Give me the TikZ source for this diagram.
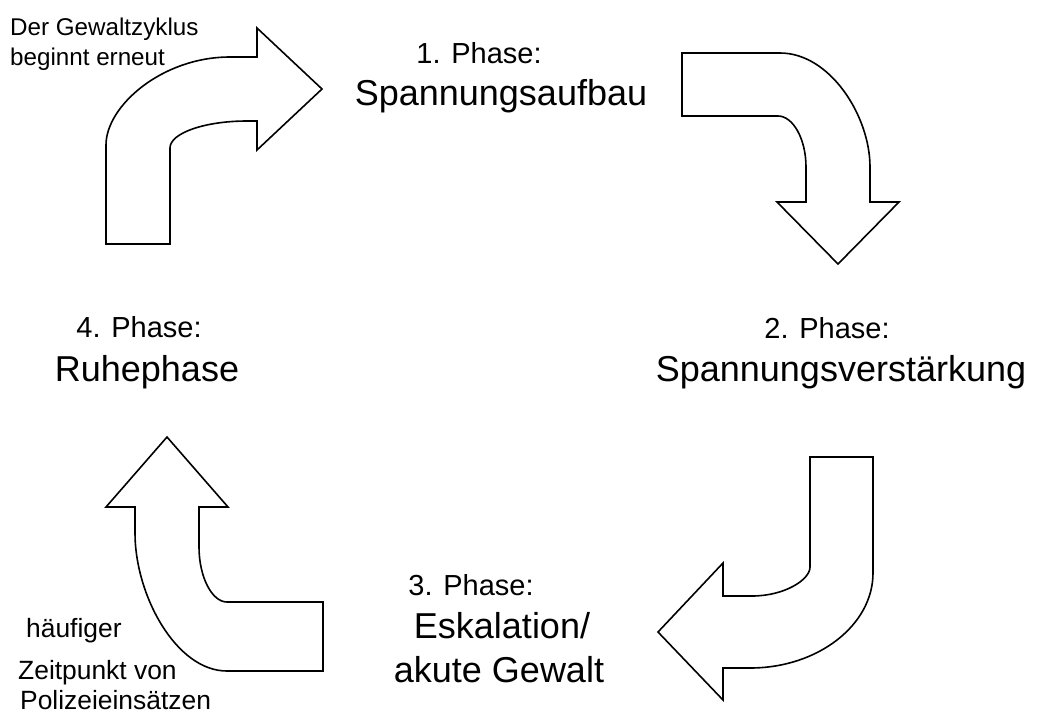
\documentclass[tikz,border=0pt]{standalone}
\usepackage{fontspec}
\setmainfont{Liberation Sans}
\usepackage{tikz}
\usetikzlibrary{positioning}
\tikzset{phase/.style = {inner sep=0pt, anchor=base,
                         font=\fontsize{29}{35}\selectfont},
         stage/.style = {inner sep=0pt, anchor=base,
                         font=\fontsize{36}{43}\selectfont},
         note/.style  = {inner sep=0pt, anchor=base west,
                         font=\fontsize{24.2}{29}\selectfont},
         bigarrow/.style = {draw, line width=1.6pt, line join=miter, fill=white}}

\begin{document}
\begin{tikzpicture}[x=1pt, y=-1pt]
    \useasboundingbox (0, 0) rectangle (1046, 716);
    % arrow into phase 1
    \draw [bigarrow] (106, 244) -- (170, 244) -- (170, 148)
        .. controls (170, 133) and (205, 121) .. (247, 121) -- (257, 121)
        -- (257, 150) -- (322, 89) -- (257, 28) -- (257, 57) -- (230, 57)
        .. controls (162, 57) and (106, 106) .. (106, 145) -- cycle;
    % arrow into phase 2
    \draw [bigarrow] (682, 53) -- (780, 53)
        .. controls (830, 53) and (870, 116) .. (870, 167) -- (870, 202)
        -- (899, 202) -- (838, 264) -- (777, 202) -- (806, 202) -- (806, 167)
        .. controls (806, 139) and (793, 116) .. (778, 116) -- (682, 116) -- cycle;
    % arrow into phase 3
    \draw [bigarrow] (810, 457) -- (873, 457) -- (873, 573)
        .. controls (873, 625) and (818, 668) .. (750, 668) -- (723, 668)
        -- (723, 700) -- (658, 632) -- (723, 563) -- (723, 596) -- (752, 596)
        .. controls (784, 596) and (810, 580) .. (810, 567) -- cycle;
    % arrow into phase 4
    \draw [bigarrow] (167, 437) -- (228, 507) -- (199, 507) -- (199, 547)
        .. controls (199, 577) and (212, 602) .. (227, 602) -- (323, 602)
        -- (323, 671) -- (227, 671)
        .. controls (176, 671) and (135, 595) .. (135, 533) -- (135, 507)
        -- (106, 507) -- cycle;

    \node [phase] (p1) at (479, 63) {1. Phase:};
    \node [stage] (p1name) at (501, 105) {Spannungsaufbau};
    \node [phase] (p2) at (827, 338) {2. Phase:};
    \node [stage] (p2name) at (841, 381) {Spannungsverstärkung};
    \node [phase] (p3) at (471, 595) {3. Phase:};
    \node [stage] (p3name) at (502, 638) {Eskalation/};
    \node [stage] (p3sub) at (499, 682) {akute Gewalt};
    \node [phase] (p4) at (139, 337) {4. Phase:};
    \node [stage] (p4name) at (147, 381) {Ruhephase};

    \node [note] (restart) at (10, 35) {Der Gewaltzyklus};
    \node [note] (restart2) at (10, 65) {beginnt erneut};
    \node [note, font=\fontsize{26.4}{31}\selectfont] (police) at (26, 637) {häufiger};
    \node [note, font=\fontsize{26.4}{31}\selectfont] (police2) at (18, 679) {Zeitpunkt von};
    \node [note, font=\fontsize{26.4}{31}\selectfont] (police3) at (20, 709) {Polizeieinsätzen};
\end{tikzpicture}
\end{document}
